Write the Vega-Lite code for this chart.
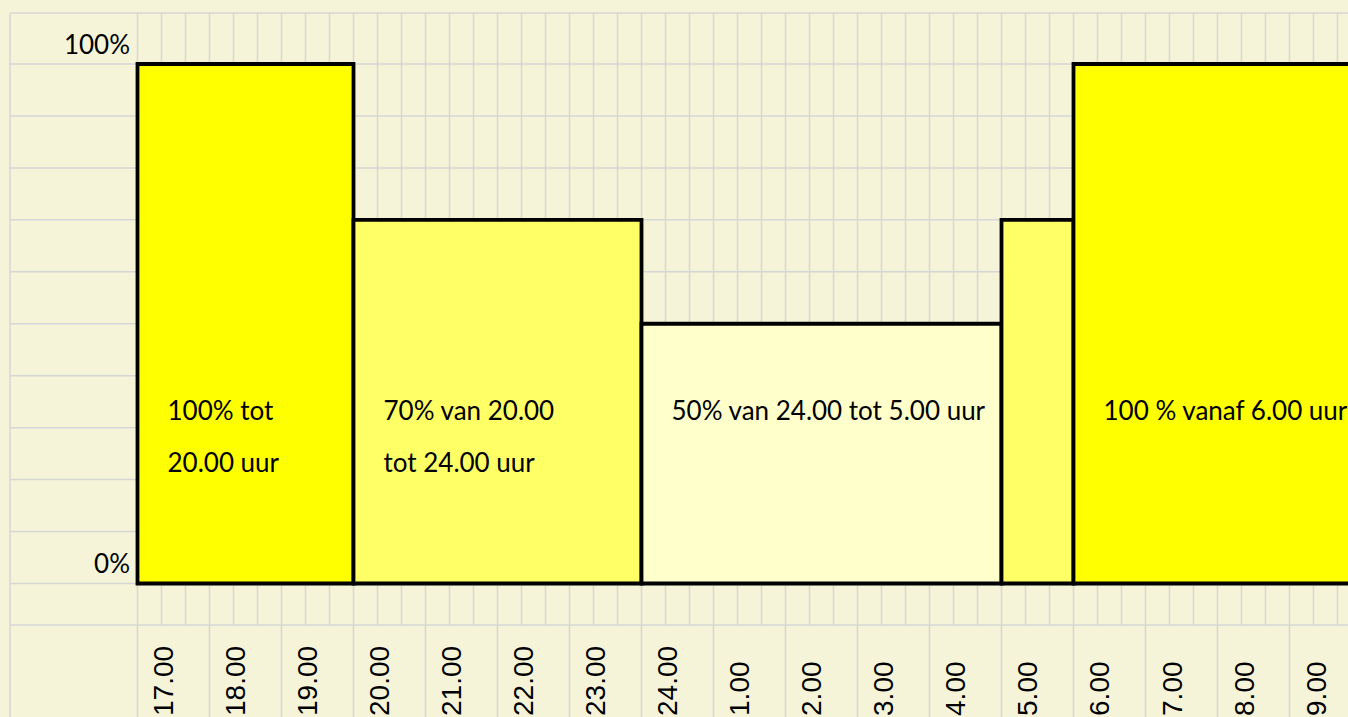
{
  "$schema": "https://vega.github.io/schema/vega-lite/v6.json",
  "width": 1348,
  "height": 717,
  "autosize": {"type": "fit", "contains": "padding"},
  "padding": 0,
  "background": "#f6f4d8",
  "config": {"view": {"stroke": null}},
  "datasets": {
    "bars": [
      {"start": 0, "end": 180, "pct": 100, "level": "100", "line1": "100% tot", "line2": "20.00 uur"},
      {"start": 180, "end": 420, "pct": 70, "level": "70", "line1": "70% van 20.00", "line2": "tot 24.00 uur"},
      {"start": 420, "end": 720, "pct": 50, "level": "50", "line1": "50% van 24.00 tot 5.00 uur", "line2": ""},
      {"start": 720, "end": 780, "pct": 70, "level": "70", "line1": "", "line2": ""},
      {"start": 780, "end": 1020, "pct": 100, "level": "100", "line1": "100 % vanaf 6.00 uur", "line2": ""}
    ],
    "minor": [
      {"m": 0}, {"m": 20}, {"m": 40}, {"m": 60}, {"m": 80}, {"m": 100}, {"m": 120}, {"m": 140}, {"m": 160}, {"m": 180},
      {"m": 200}, {"m": 220}, {"m": 240}, {"m": 260}, {"m": 280}, {"m": 300}, {"m": 320}, {"m": 340}, {"m": 360}, {"m": 380},
      {"m": 400}, {"m": 420}, {"m": 440}, {"m": 460}, {"m": 480}, {"m": 500}, {"m": 520}, {"m": 540}, {"m": 560}, {"m": 580},
      {"m": 600}, {"m": 620}, {"m": 640}, {"m": 660}, {"m": 680}, {"m": 700}, {"m": 720}, {"m": 740}, {"m": 760}, {"m": 780},
      {"m": 800}, {"m": 820}, {"m": 840}, {"m": 860}, {"m": 880}, {"m": 900}, {"m": 920}, {"m": 940}, {"m": 960}, {"m": 980},
      {"m": 1000}
    ],
    "hourlines": [
      {"m": 0}, {"m": 60}, {"m": 120}, {"m": 180}, {"m": 240}, {"m": 300}, {"m": 360}, {"m": 420}, {"m": 480},
      {"m": 540}, {"m": 600}, {"m": 660}, {"m": 720}, {"m": 780}, {"m": 840}, {"m": 900}, {"m": 960}
    ],
    "hlines": [
      {"v": 109.8}, {"v": 100}, {"v": 90}, {"v": 80}, {"v": 70}, {"v": 60}, {"v": 50}, {"v": 40},
      {"v": 30}, {"v": 20}, {"v": 10}, {"v": 0}, {"v": -8}
    ],
    "hours": [
      {"m": 30, "label": "17.00"}, {"m": 90, "label": "18.00"}, {"m": 150, "label": "19.00"},
      {"m": 210, "label": "20.00"}, {"m": 270, "label": "21.00"}, {"m": 330, "label": "22.00"},
      {"m": 390, "label": "23.00"}, {"m": 450, "label": "24.00"}, {"m": 510, "label": "1.00"},
      {"m": 570, "label": "2.00"}, {"m": 630, "label": "3.00"}, {"m": 690, "label": "4.00"},
      {"m": 750, "label": "5.00"}, {"m": 810, "label": "6.00"}, {"m": 870, "label": "7.00"},
      {"m": 930, "label": "8.00"}, {"m": 990, "label": "9.00"}
    ],
    "ylabels": [
      {"v": 100, "label": "100%"},
      {"v": 0, "label": "0%"}
    ]
  },
  "layer": [
    {
      "data": {"name": "minor"},
      "mark": {"type": "rule", "color": "#d6d6d6", "strokeWidth": 1.5, "clip": true},
      "encoding": {
        "x": {"field": "m", "type": "quantitative", "scale": {"domain": [-114.583, 1008.75], "nice": false, "zero": false}, "axis": null},
        "y": {"datum": 109.8, "type": "quantitative", "scale": {"domain": [-25.7, 112.32], "nice": false, "zero": false}, "axis": null},
        "y2": {"datum": -8}
      }
    },
    {
      "data": {"name": "hourlines"},
      "mark": {"type": "rule", "color": "#d6d6d6", "strokeWidth": 1.5, "clip": true},
      "encoding": {
        "x": {"field": "m", "type": "quantitative"},
        "y": {"datum": -8, "type": "quantitative"},
        "y2": {"datum": -25.7}
      }
    },
    {
      "data": {"values": [{"m": -106.25}]},
      "mark": {"type": "rule", "color": "#d6d6d6", "strokeWidth": 1.5, "clip": true},
      "encoding": {
        "x": {"field": "m", "type": "quantitative"},
        "y": {"datum": 109.8, "type": "quantitative"},
        "y2": {"datum": -25.7}
      }
    },
    {
      "data": {"name": "hlines"},
      "mark": {"type": "rule", "color": "#d6d6d6", "strokeWidth": 1.5, "clip": true},
      "encoding": {
        "y": {"field": "v", "type": "quantitative"},
        "x": {"datum": -106.25, "type": "quantitative"},
        "x2": {"datum": 1008.75}
      }
    },
    {
      "data": {"name": "bars"},
      "mark": {"type": "rect", "stroke": "#000000", "strokeWidth": 3.8, "clip": true},
      "encoding": {
        "x": {"field": "start", "type": "quantitative"},
        "x2": {"field": "end"},
        "y": {"field": "pct", "type": "quantitative"},
        "y2": {"datum": 0},
        "fill": {"field": "level", "type": "nominal", "scale": {"domain": ["100", "70", "50"], "range": ["#ffff00", "#ffff66", "#ffffcc"]}, "legend": null}
      }
    },
    {
      "data": {"name": "bars"},
      "mark": {"type": "text", "font": "Lato", "fontSize": 26, "align": "left", "baseline": "alphabetic", "dx": 30, "color": "#000000", "clip": true},
      "encoding": {
        "x": {"field": "start", "type": "quantitative"},
        "y": {"datum": 31.5, "type": "quantitative"},
        "text": {"field": "line1"}
      }
    },
    {
      "data": {"name": "bars"},
      "mark": {"type": "text", "font": "Lato", "fontSize": 26, "align": "left", "baseline": "alphabetic", "dx": 30, "color": "#000000", "clip": true},
      "encoding": {
        "x": {"field": "start", "type": "quantitative"},
        "y": {"datum": 21.5, "type": "quantitative"},
        "text": {"field": "line2"}
      }
    },
    {
      "data": {"name": "ylabels"},
      "mark": {"type": "text", "font": "Lato", "fontSize": 26, "align": "right", "baseline": "alphabetic", "dx": -7.5, "dy": -10.5, "color": "#000000", "clip": true},
      "encoding": {
        "x": {"datum": 0, "type": "quantitative"},
        "y": {"field": "v", "type": "quantitative"},
        "text": {"field": "label"}
      }
    },
    {
      "data": {"name": "hours"},
      "mark": {"type": "text", "font": "Liberation Sans", "fontSize": 28, "angle": 270, "align": "left", "baseline": "alphabetic", "color": "#000000", "clip": true},
      "encoding": {
        "x": {"field": "m", "type": "quantitative"},
        "y": {"datum": -25.5, "type": "quantitative"},
        "text": {"field": "label"}
      }
    }
  ]
}
